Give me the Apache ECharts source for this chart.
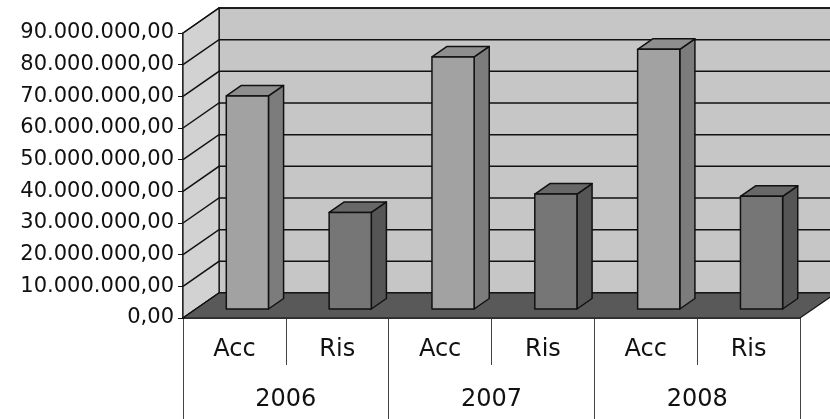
<!DOCTYPE html>
<html>
<head>
<meta charset="utf-8">
<script src="https://cdn.jsdelivr.net/npm/echarts@6/dist/echarts.min.js"></script>
<style>
html, body { margin: 0; padding: 0; background: #fff; }
#main { width: 830px; height: 419px; }
</style>
</head>
<body>
<div id="main"></div>
<script>
// dati
var categories = ['Acc', 'Ris', 'Acc', 'Ris', 'Acc', 'Ris'];
var years = ['2006', '2007', '2008'];
var accValues = [67300000, 79600000, 82000000];
var risValues = [30500000, 36300000, 35600000];
var yTicks = [0, 10000000, 20000000, 30000000, 40000000, 50000000, 60000000, 70000000, 80000000, 90000000];

// finta prospettiva 3D
var DX = 36, DY = -25;      // profondita' del pavimento
var F0 = 0.36, F1 = 0.78;   // fronte / retro della barra
var BAR_W = 0.41;           // larghezza barra rispetto alla categoria

var chart = echarts.init(document.getElementById('main'));

function fmt(v) {
    var s = Math.round(v).toString().replace(/\B(?=(\d{3})+(?!\d))/g, '.');
    return s + ',00';
}

function wallRender(params, api) {
    var cs = params.coordSys;
    var L = cs.x, R = cs.x + cs.width, T = cs.y, B = cs.y + cs.height;
    var kids = [];
    // parete di fondo
    kids.push({ type: 'polygon', shape: { points: [[L + DX, T + DY], [R + DX, T + DY], [R + DX, B + DY], [L + DX, B + DY]] },
        style: { fill: '#c6c6c6', stroke: '#111', lineWidth: 1.5 } });
    // parete sinistra
    kids.push({ type: 'polygon', shape: { points: [[L, B], [L, T], [L + DX, T + DY], [L + DX, B + DY]] },
        style: { fill: '#d2d2d2', stroke: '#111', lineWidth: 1.2 } });
    // griglia
    yTicks.forEach(function (t) {
        var y = api.coord([0, t])[1];
        kids.push({ type: 'polyline', shape: { points: [[L, y], [L + DX, y + DY], [R + DX, y + DY]] },
            style: { stroke: '#111', lineWidth: 1.5, fill: null } });
    });
    // pavimento
    kids.push({ type: 'polygon', shape: { points: [[L, B], [R, B], [R + DX, B + DY], [L + DX, B + DY]] },
        style: { fill: '#595959', stroke: '#111', lineWidth: 1.2 } });
    return { type: 'group', children: kids };
}

function barRender(colors) {
    return function (params, api) {
        var idx = api.value(0), v = api.value(1);
        var top = api.coord([idx, v]), base = api.coord([idx, 0]);
        var w = api.size([1, 0])[0] * BAR_W;
        var x0 = top[0] - w / 2 + DX * F0, x1 = x0 + w;
        var yT = top[1] + DY * F0, yB = base[1] + DY * F0;
        var ddx = DX * (F1 - F0), ddy = DY * (F1 - F0);
        var st = { stroke: '#111', lineWidth: 1.5, lineJoin: 'round' };
        return {
            type: 'group',
            children: [
                { type: 'polygon', shape: { points: [[x1, yB], [x1 + ddx, yB + ddy], [x1 + ddx, yT + ddy], [x1, yT]] },
                    style: echarts.util.extend({ fill: colors[1] }, st) },
                { type: 'polygon', shape: { points: [[x0, yT], [x1, yT], [x1 + ddx, yT + ddy], [x0 + ddx, yT + ddy]] },
                    style: echarts.util.extend({ fill: colors[2] }, st) },
                { type: 'polygon', shape: { points: [[x0, yB], [x1, yB], [x1, yT], [x0, yT]] },
                    style: echarts.util.extend({ fill: colors[0] }, st) }
            ]
        };
    };
}

var accData = accValues.map(function (v, i) { return [i * 2, v]; });
var risData = risValues.map(function (v, i) { return [i * 2 + 1, v]; });

var option = {
    animation: false,
    textStyle: { fontFamily: 'DejaVu Sans' },
    grid: { left: 183, right: 30, top: 33, bottom: 101, outerBoundsMode: 'none' },
    xAxis: [
        {
            type: 'category',
            position: 'bottom',
            data: categories,
            axisLine: { show: true, lineStyle: { color: '#111', width: 1.5 } },
            axisTick: { show: true, interval: 0, length: 47, lineStyle: { color: '#444', width: 1 } },
            axisLabel: { interval: 0, fontSize: 24, margin: 20, color: '#111' }
        },
        {
            type: 'category',
            position: 'bottom',
            data: years,
            axisLine: { show: false },
            axisTick: { show: true, interval: 0, length: 101, lineStyle: { color: '#444', width: 1 } },
            axisLabel: { interval: 0, fontSize: 24, margin: 70, color: '#111' }
        }
    ],
    yAxis: {
        type: 'value',
        min: 0,
        max: 90000000,
        interval: 10000000,
        axisLine: { show: true, lineStyle: { color: '#111', width: 1.5 } },
        axisTick: { show: true, length: 5, lineStyle: { color: '#111' } },
        axisLabel: { fontSize: 21, margin: 9, color: '#111', formatter: fmt },
        splitLine: { show: false }
    },
    series: [
        {
            type: 'custom',
            name: 'pareti',
            renderItem: wallRender,
            data: [[0, 0]],
            silent: true,
            z: 1
        },
        {
            type: 'custom',
            name: 'Acc',
            renderItem: barRender(['#a2a2a2', '#7c7c7c', '#8e8e8e']),
            data: accData,
            z: 2
        },
        {
            type: 'custom',
            name: 'Ris',
            renderItem: barRender(['#767676', '#555555', '#686868']),
            data: risData,
            z: 2
        }
    ]
};

chart.setOption(option);
</script>
</body>
</html>
